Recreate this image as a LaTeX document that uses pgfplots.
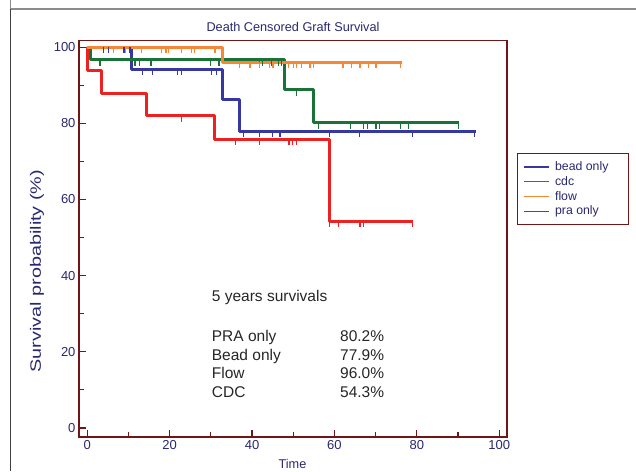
\documentclass[border=0pt]{standalone}
\usepackage{fontspec}
\setmainfont{Liberation Sans}
\usepackage{pgfplots}
\pgfplotsset{compat=1.18}
\definecolor{navytext}{RGB}{40,40,110}
\definecolor{maroon}{RGB}{112,22,22}
\definecolor{cblue}{RGB}{55,55,160}
\definecolor{cred}{RGB}{238,32,32}
\definecolor{corange}{RGB}{245,135,55}
\definecolor{cgreen}{RGB}{25,115,55}
\pgfdeclareplotmark{cens}{\pgfpathmoveto{\pgfqpoint{0pt}{0pt}}\pgfpathlineto{\pgfqpoint{0pt}{-6pt}}\pgfusepathqstroke}
\begin{document}
\begin{tikzpicture}
\useasboundingbox (0,0) rectangle (636pt,471pt);
\draw[line width=1.1pt, color=black!45] (10.5pt,471pt) -- (10.5pt,462pt) -- (636pt,462pt);
\draw[line width=1.1pt, color=black!75] (10.5pt,0pt) -- (10.5pt,462pt);
\begin{axis}[
  at={(79pt,34.3pt)}, anchor=south west,
  scale only axis, width=428pt, height=396pt,
  xmin=-2, xmax=101.9, ymin=-2.3, ymax=101.7,
  xtick={0,20,...,100}, minor xtick={10,30,...,90},
  ytick={0,20,...,100}, minor ytick={10,30,...,90},
  tick align=inside,
  major tick length=7pt, minor tick length=4.5pt,
  every tick/.style={maroon, line width=1.2pt},
  axis line style={maroon, line width=1.6pt},
  ticklabel style={font=\fontsize{13}{15}\selectfont, text=navytext},
  /pgf/number format/assume math mode=true,
  xtick pos=bottom, ytick pos=left,
  legend style={at={(1.024,0.716)}, anchor=north west, draw=maroon, line width=1.2pt,
    font=\fontsize{12.3}{14}\selectfont, text=navytext, inner xsep=6pt, inner ysep=6pt,
    row sep=0.3pt},
  legend cell align=left,
  legend image code/.code={\draw[#1, line width=1.2pt] (0pt,0pt) -- (25pt,0pt);},
]
\addlegendimage{cblue}\addlegendentry{\hspace*{3pt}bead only\hspace*{12pt}\mbox{}}
\addlegendimage{cred}\addlegendentry{\hspace*{3pt}cdc}
\addlegendimage{corange}\addlegendentry{\hspace*{3pt}flow}
\addlegendimage{cgreen}\addlegendentry{\hspace*{3pt}pra only}

% red: cdc
\addplot[cred, line width=3pt, const plot, line join=round, forget plot] coordinates {
(0,100) (0,94.0) (3.5,87.9) (14.4,82.0) (30.8,75.8) (58.9,54.3) (79.0,54.3)};
\addplot[cred, line width=1.2pt, only marks, mark=cens, forget plot] coordinates {
(22.9,82.0) (35.9,75.8) (41.9,75.8) (49.0,75.8) (49.9,75.8) (50.8,75.8)
(58.9,54.3) (60.9,54.3) (66.2,54.3) (67.0,54.3) (79.0,54.3)};

% blue: bead only
\addplot[cblue, line width=3pt, const plot, line join=round, forget plot] coordinates {
(0,100) (10.8,94.2) (32.9,86.2) (36.9,77.9) (94.3,77.9)};
\addplot[cblue, line width=1.2pt, only marks, mark=cens, forget plot] coordinates {
(3.9,100) (5.1,100) (8.9,100) (10.4,100)
(13.4,94.2) (15.9,94.2) (21.9,94.2) (22.9,94.2) (30.2,94.2) (31.4,94.2)
(37.9,77.9) (41.9,77.9) (45.0,77.9) (46.8,77.9) (58.9,77.9) (66.0,77.9) (79.0,77.9) (94.1,77.9)};

% green: pra only
\addplot[cgreen, line width=3pt, const plot, line join=round, forget plot] coordinates {
(0,100) (0.8,96.7) (48.0,88.8) (54.9,80.2) (90.3,80.2)};
\addplot[cgreen, line width=1.2pt, only marks, mark=cens, forget plot] coordinates {
(3.1,96.7) (11.6,96.7) (12.7,96.7) (15.5,96.7) (29.9,96.7) (32.0,96.7)
(41.9,96.7) (42.6,96.7) (44.8,96.7) (46.4,96.7) (47.2,96.7)
(50.8,88.8)
(56.1,80.2) (64.0,80.2) (67.0,80.2) (68.0,80.2) (70.1,80.2) (71.0,80.2) (76.1,80.2) (78.0,80.2) (90.1,80.2)};

% orange: flow
\addplot[corange, line width=3pt, const plot, line join=round, forget plot] coordinates {
(0,100) (32.9,96.0) (76.3,96.0)};
\addplot[corange, line width=1.2pt, only marks, mark=cens, forget plot] coordinates {
(6.3,100) (9.2,100) (13.2,100) (18.1,100) (19.1,100) (19.7,100) (22.9,100) (25.3,100) (26.1,100) (31.0,100)
(36.9,96.0) (39.5,96.0) (41.9,96.0) (44.3,96.0) (45.1,96.0) (48.8,96.0) (50.0,96.0) (50.8,96.0)
(52.0,96.0) (54.1,96.0) (54.9,96.0) (62.1,96.0) (64.2,96.0) (66.2,96.0) (68.2,96.0) (70.1,96.0) (76.1,96.0)};
\end{axis}
\node[anchor=base, text=navytext, font=\fontsize{12.7}{15}\selectfont] at (293pt,439.5pt) {Death Censored Graft Survival};
\node[anchor=base, text=navytext, font=\fontsize{12.7}{15}\selectfont] at (292.5pt,3pt) {Time};
\node[rotate=90, text=navytext, font=\fontsize{15}{17}\selectfont] at (37pt,200pt) {\scalebox{1.32}[1]{Survival probability (\%)}};
\begin{scope}[every node/.style={font=\fontsize{15.5}{18}\selectfont, text=black!85, inner sep=0pt}]
\node[anchor=base west] at (211.7pt,169.3pt) {5 years survivals};
\node[anchor=base west] at (211.7pt,129.3pt) {PRA only};
\node[anchor=base west] at (211.7pt,111.0pt) {Bead only};
\node[anchor=base west] at (211.7pt,92.7pt) {Flow};
\node[anchor=base west] at (211.7pt,73.7pt) {CDC};
\node[anchor=base east] at (384.3pt,129.3pt) {80.2\%};
\node[anchor=base east] at (384.3pt,111.0pt) {77.9\%};
\node[anchor=base east] at (384.3pt,92.7pt) {96.0\%};
\node[anchor=base east] at (384.3pt,73.7pt) {54.3\%};
\end{scope}
\end{tikzpicture}
\end{document}
